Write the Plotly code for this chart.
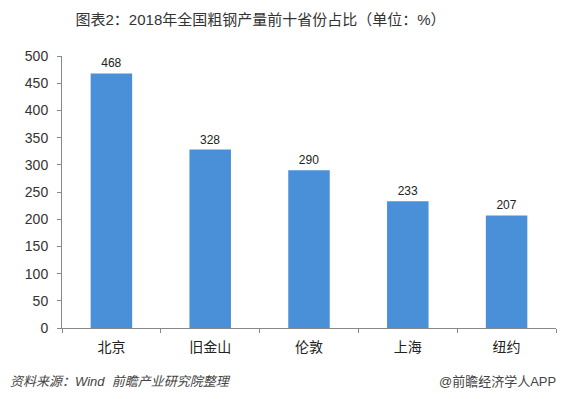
import plotly.graph_objects as go

cities = ["北京", "旧金山", "伦敦", "上海", "纽约"]
values = [468, 328, 290, 233, 207]
y_ticks = [0, 50, 100, 150, 200, 250, 300, 350, 400, 450, 500]

FONT = "Liberation Sans, Noto Sans CJK SC, sans-serif"

fig = go.Figure(go.Bar(
    x=cities, y=values,
    marker=dict(color="#4A90D9", line=dict(width=0)),
    width=0.42,
    text=[str(v) for v in values],
    textposition="outside",
    textfont=dict(size=12, color="#222", family=FONT),
    cliponaxis=False,
))

# page has an 8px body margin, so the figure is drawn 8px smaller
fig.update_layout(
    width=560, height=391,
    margin=dict(l=54, r=12, t=48, b=71),
    paper_bgcolor="white", plot_bgcolor="white",
    showlegend=False,
    font=dict(family=FONT, color="#333", size=13),
    title=dict(text="图表2：2018年全国粗钢产量前十省份占比（单位：%）",
               x=0.451, xanchor="center", y=0.969, yanchor="middle",
               font=dict(size=15, color="#333", family=FONT)),
)
fig.update_yaxes(range=[0, 500], tickvals=y_ticks, showgrid=False,
                 showline=True, linecolor="#888", linewidth=1,
                 ticks="outside", ticklen=4, tickcolor="#888",
                 ticklabelstandoff=6,
                 tickfont=dict(size=14, color="#333"), zeroline=False)
fig.update_xaxes(showline=True, linecolor="#888", linewidth=1,
                 ticks="outside", ticklen=4, tickcolor="#888",
                 tickson="boundaries", ticklabelstandoff=6,
                 tickfont=dict(size=14, color="#222"))

fig.add_annotation(text="<i>资料来源：Wind  前瞻产业研究院整理</i>",
                   xref="paper", yref="paper", x=-0.109, y=-0.195,
                   xanchor="left", yanchor="middle", showarrow=False,
                   font=dict(size=13, color="#444", family=FONT))
fig.add_annotation(text="@前瞻经济学人APP",
                   xref="paper", yref="paper", x=1.004, y=-0.195,
                   xanchor="right", yanchor="middle", showarrow=False,
                   font=dict(size=13, color="#444", family=FONT))

fig.write_html("out.html")
